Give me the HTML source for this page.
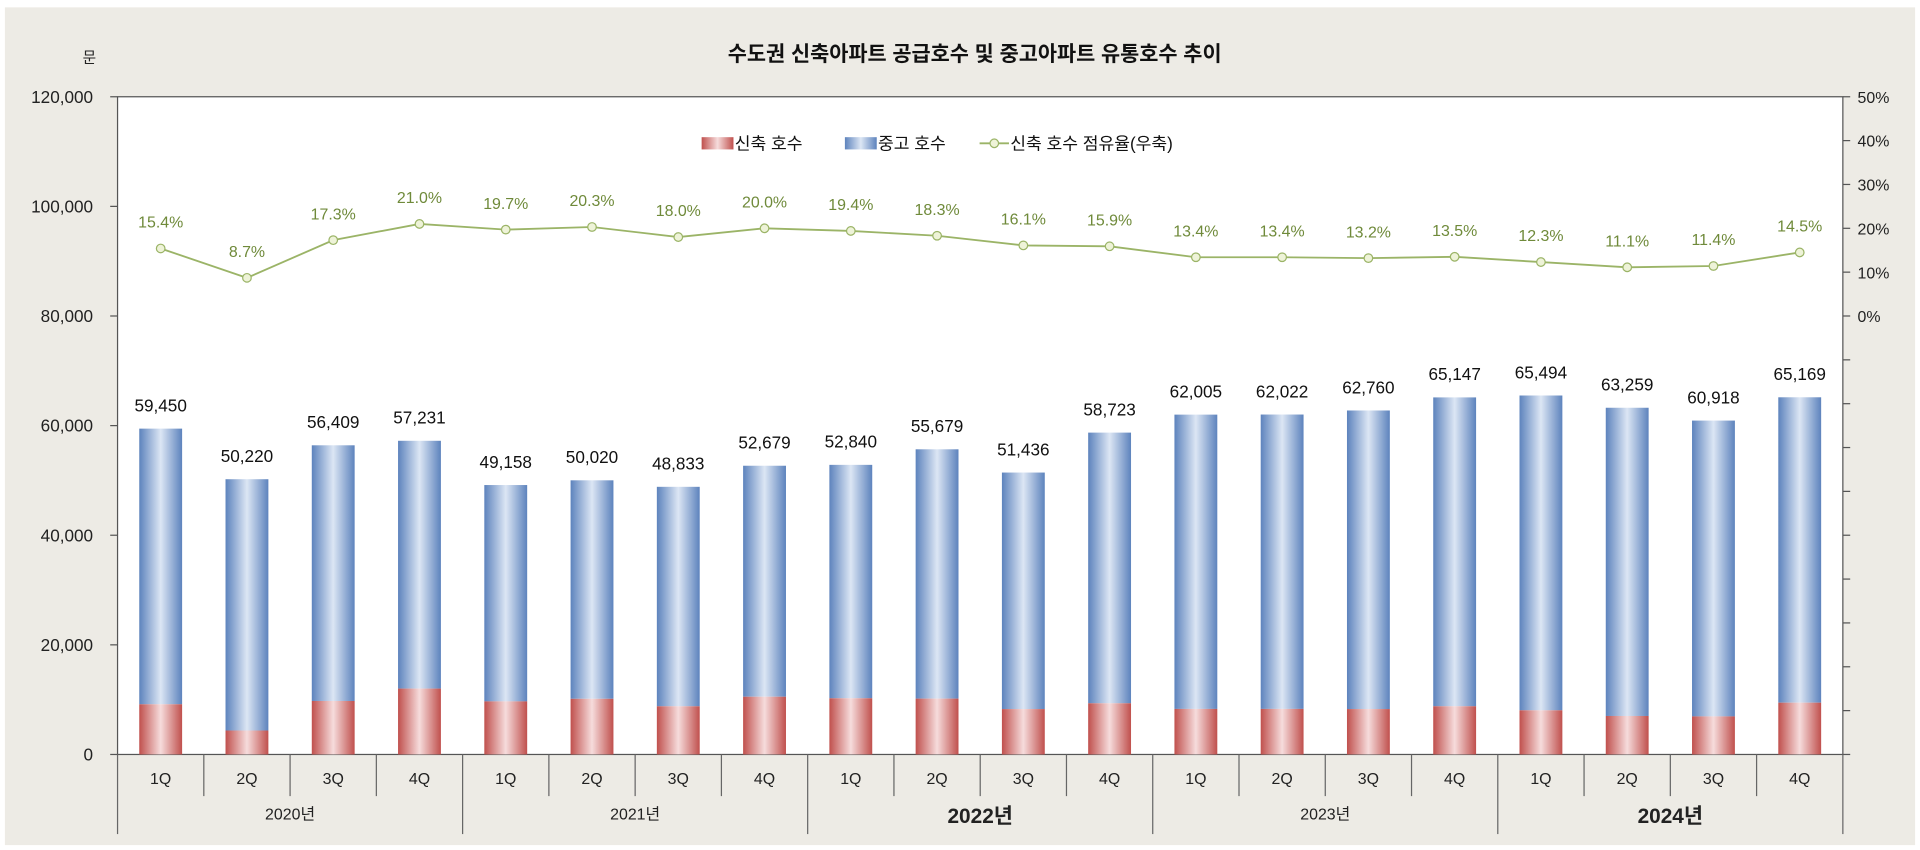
<!DOCTYPE html>
<html><head><meta charset="utf-8"><style>
html,body{margin:0;padding:0;background:#fff;}
svg{display:block;}
text{font-family:"Liberation Sans","Noto Sans CJK KR",sans-serif;}
</style></head><body>
<svg id="c" width="1920" height="850" viewBox="0 0 1568 694" preserveAspectRatio="none" xmlns="http://www.w3.org/2000/svg">
<defs>
<linearGradient id="gb" x1="0" x2="1" y1="0" y2="0">
<stop offset="0" stop-color="#5d83bd"/><stop offset="0.5" stop-color="#dce6f4"/><stop offset="1" stop-color="#5d83bd"/></linearGradient>
<linearGradient id="gr" x1="0" x2="1" y1="0" y2="0">
<stop offset="0" stop-color="#c0504d"/><stop offset="0.5" stop-color="#f6dcdc"/><stop offset="1" stop-color="#c0504d"/></linearGradient>
</defs>
<rect x="0" y="0" width="1568" height="694" fill="#fff"/>
<rect x="4" y="6" width="1560" height="684" fill="#edebe5"/>
<rect x="96" y="79" width="1409" height="537" fill="#fff" stroke="#555" stroke-width="1"/>
<text x="796" y="50" text-anchor="middle" font-size="17" font-weight="bold" fill="#111">수도권 신축아파트 공급호수 및 중고아파트 유통호수 추이</text>
<text x="73" y="51" text-anchor="middle" font-size="12" fill="#222">문</text>
<g id="g"></g>
</svg>
<script>
var g=document.getElementById('g'),s='';
var tot=[59450,50220,56409,57231,49158,50020,48833,52679,52840,55679,51436,58723,62005,62022,62760,65147,65494,63259,60918,65169];
var pct=[15.4,8.7,17.3,21.0,19.7,20.3,18.0,20.0,19.4,18.3,16.1,15.9,13.4,13.4,13.2,13.5,12.3,11.1,11.4,14.5];
function Y(v){return 616-v/20000*89.5;}
function P(p){return 258-p/10*35.8;}
var L=96,R=1505,cw=(R-L)/20;
for(var i=0;i<=6;i++){var y=616-i*89.5;s+='<line x1="90" x2="96" y1="'+y+'" y2="'+y+'" stroke="#555"/>';
s+='<text x="76" y="'+(y+5)+'" text-anchor="end" font-size="14" fill="#222">'+(i==0?'0':(i*20)+',000')+'</text>';}
for(var k=0;k<=15;k++){var y=79+k*35.8;if(y>617)break;s+='<line x1="1505" x2="1511" y1="'+y+'" y2="'+y+'" stroke="#555"/>';}
for(var k=0;k<=5;k++){var y=P(k*10);s+='<text x="1517" y="'+(y+5)+'" font-size="13" fill="#222">'+(k*10)+'%</text>';}
var pts=[];
for(var i=0;i<20;i++){var cx=L+cw*(i+0.5),bw=35,x=cx-bw/2;
var n=tot[i]*pct[i]/100;var yt=Y(tot[i]),yn=Y(n);
s+='<rect x="'+x+'" y="'+yt+'" width="'+bw+'" height="'+(yn-yt)+'" fill="url(#gb)"/>';
s+='<rect x="'+x+'" y="'+yn+'" width="'+bw+'" height="'+(616-yn)+'" fill="url(#gr)"/>';
s+='<text x="'+cx+'" y="'+(yt-14)+'" text-anchor="middle" font-size="14" fill="#111">'+tot[i].toLocaleString('en-US')+'</text>';
pts.push(cx+','+P(pct[i]));
s+='<text x="'+cx+'" y="'+(P(pct[i])-17)+'" text-anchor="middle" font-size="13" fill="#6f8a3a">'+pct[i].toFixed(1)+'%</text>';
s+='<text x="'+cx+'" y="640" text-anchor="middle" font-size="13" fill="#222">'+(i%4+1)+'Q</text>';
s+='<line x1="'+(L+cw*i)+'" x2="'+(L+cw*i)+'" y1="616" y2="'+(i%4==0?681:650)+'" stroke="#666"/>';}
s+='<line x1="'+R+'" x2="'+R+'" y1="616" y2="681" stroke="#666"/>';
s+='<polyline points="'+pts.join(' ')+'" fill="none" stroke="#9bb467" stroke-width="1.5"/>';
pts.forEach(function(p){var a=p.split(',');s+='<circle cx="'+a[0]+'" cy="'+a[1]+'" r="3.5" fill="#eef3d8" stroke="#9bb467"/>';});
var yrs=['2020년','2021년','2022년','2023년','2024년'];
for(var j=0;j<5;j++){var big=(j==2||j==4);s+='<text x="'+(L+cw*(j*4+2))+'" y="'+(big?672:669)+'" text-anchor="middle" font-size="'+(big?17:13)+'" '+(big?'font-weight="bold"':'')+' fill="#222">'+yrs[j]+'</text>';}
s+='<rect x="573" y="112" width="26" height="10" fill="url(#gr)"/><text x="600" y="122" font-size="14" fill="#111">신축 호수</text>';
s+='<rect x="690" y="112" width="26" height="10" fill="url(#gb)"/><text x="717" y="122" font-size="14" fill="#111">중고 호수</text>';
s+='<line x1="800" x2="824" y1="117" y2="117" stroke="#9bb467" stroke-width="1.5"/><circle cx="812" cy="117" r="3.5" fill="#eef3d8" stroke="#9bb467"/><text x="825" y="122" font-size="14" fill="#111">신축 호수 점유율(우축)</text>';
g.innerHTML=s;
</script>
</body></html>
